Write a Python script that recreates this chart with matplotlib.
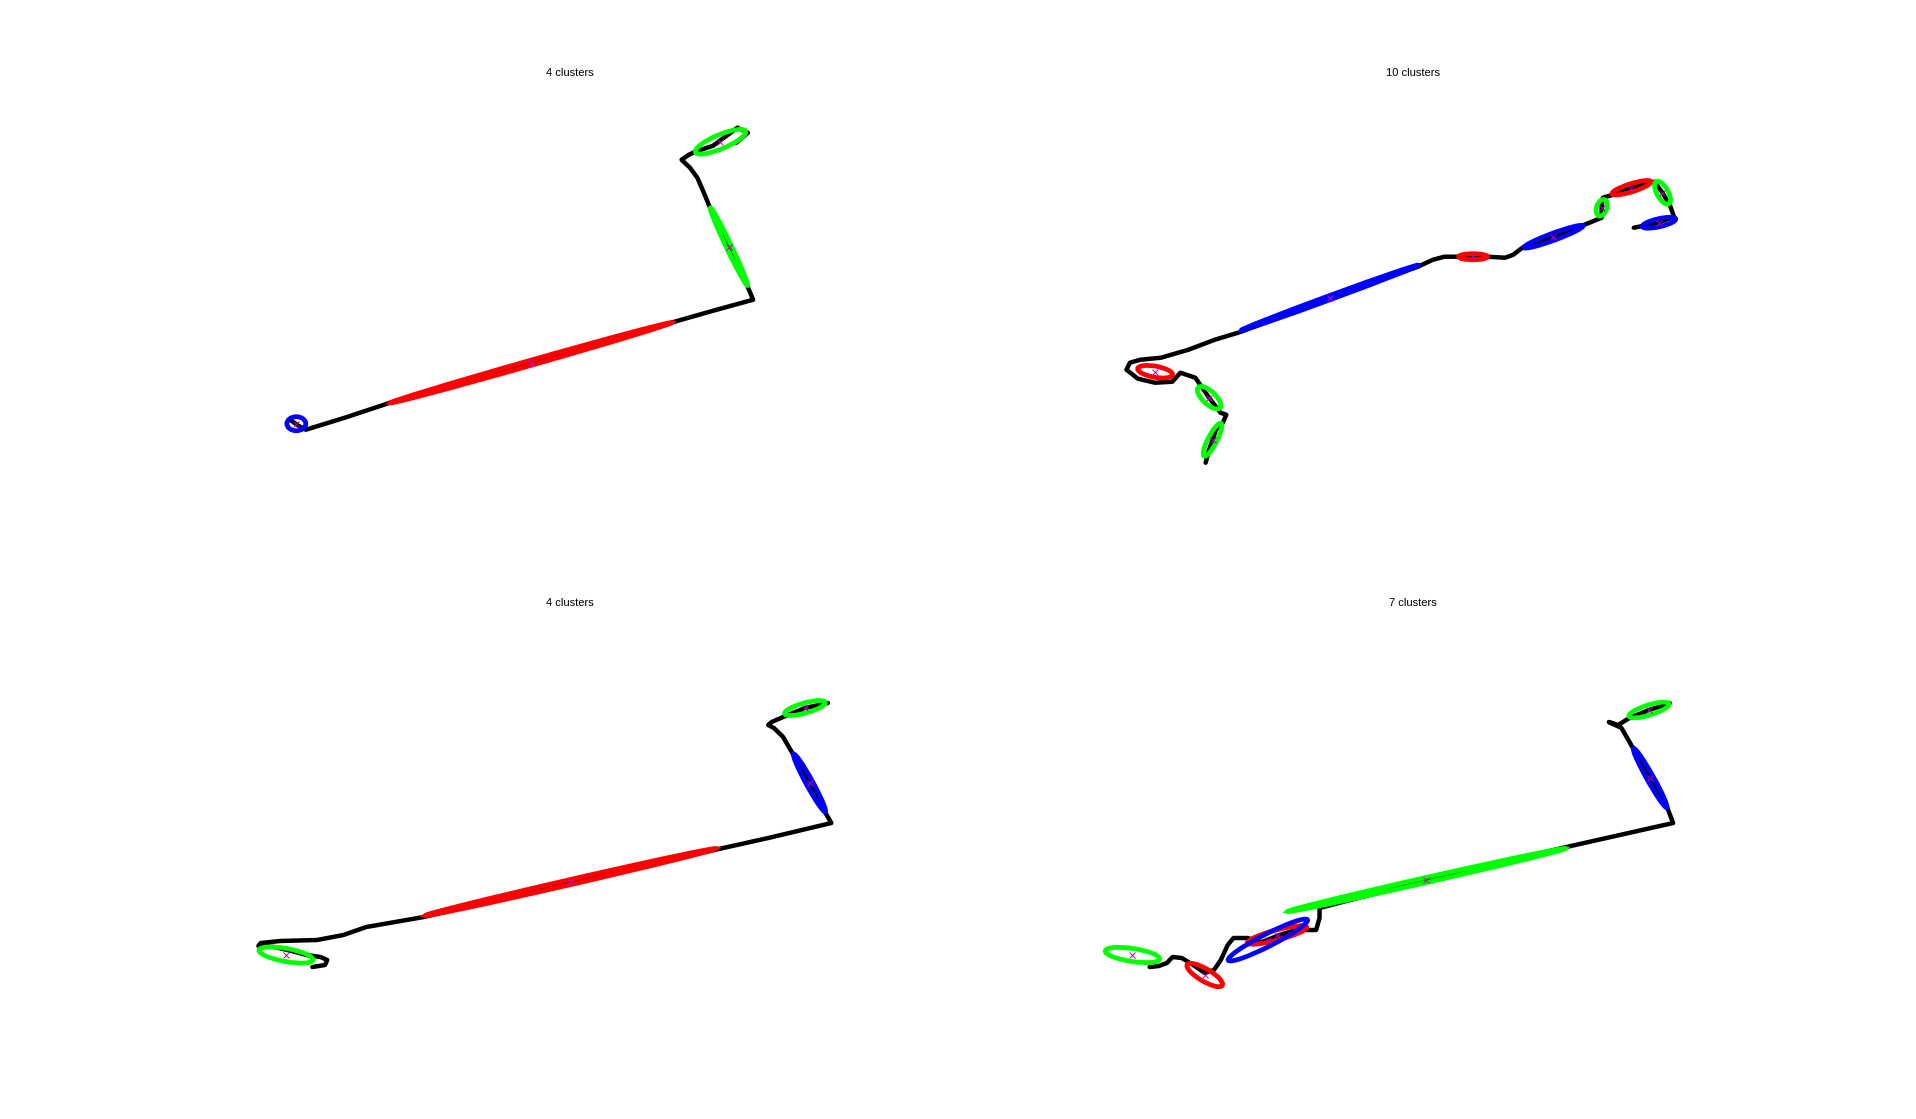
import matplotlib
matplotlib.use('Agg')
import matplotlib.pyplot as plt
from matplotlib.patches import Ellipse

plt.rcParams['font.family'] = ['Liberation Sans', 'DejaVu Sans']

# trajectories and gaussian clusters (arbitrary position units per panel)
titles = ['4 clusters', '10 clusters', '4 clusters', '7 clusters']

# panel 1
traj1_x = [288, 296, 303, 340, 383, 517, 650, 690, 728, 722, 705, 687, 682, 675, 668, 660, 667, 673, 690, 713, 723, 712]
traj1_y = [420, 426, 430, 418, 403, 363, 323, 311, 300, 285, 247, 208, 195, 178, 168, 160, 155, 152, 146, 128, 133, 143]
ell1_cx = [294, 517, 705, 697]
ell1_cy = [424, 363, 247, 142]
ell1_w = [18, 279, 85, 52]
ell1_h = [14, 5, 5, 14]
ell1_ang = [0, -16.7, 65.6, -24]
ell1_col = ['b', 'r', 'lime', 'lime']

# panel 2
traj2_x = [1192, 1195, 1201, 1207, 1210, 1205, 1195, 1183, 1170, 1163, 1148, 1133, 1123, 1126, 1135, 1153, 1177, 1200,
           1223, 1300, 1377, 1390, 1400, 1410, 1425, 1438, 1453, 1460, 1468, 1495, 1522, 1537, 1537, 1538, 1547, 1563,
           1583, 1590, 1597, 1600, 1587, 1565]
traj2_y = [463, 450, 430, 423, 415, 413, 398, 378, 373, 382, 383, 379, 370, 363, 360, 358, 350, 340,
           332, 298, 267, 260, 257, 257, 257, 257, 258, 255, 248, 237, 225, 218, 208, 198, 195, 188,
           182, 193, 207, 217, 223, 228]
ell2_cx = [1198, 1195, 1148, 1300, 1425, 1495, 1537, 1563, 1590, 1587]
ell2_cy = [440, 398, 372, 298, 257, 237, 208, 188, 193, 223]
ell2_w = [36, 28, 31, 167, 25, 56, 17, 36, 25, 30]
ell2_h = [8, 12, 11, 4, 6, 7, 9, 8, 10, 8]
ell2_ang = [-66, 49, 12, -22.9, 0, -23, -75, -20, 65, -15]
ell2_col = ['lime', 'lime', 'r', 'b', 'r', 'b', 'lime', 'r', 'lime', 'b']

# panel 3
traj3_x = [303, 314, 316, 310, 298, 285, 270, 256, 258, 275, 307, 330, 350, 375, 400, 528, 653, 700, 755, 750, 736, 722,
           713, 705, 700, 703, 713, 732, 752]
traj3_y = [967, 965, 960, 957, 955, 951, 947, 946, 943, 941, 940, 935, 927, 922, 917, 882, 850, 838, 823, 813, 783, 755,
           737, 728, 725, 722, 717, 708, 703]
ell3_cx = [280, 528, 736, 732]
ell3_cy = [955, 882, 783, 708]
ell3_w = [48, 262, 64, 37]
ell3_h = [13, 5, 6, 10]
ell3_ang = [12, -14.8, 64.6, -18]
ell3_col = ['lime', 'r', 'b', 'lime']

# panel 4
traj4_x = [1142, 1150, 1157, 1162, 1170, 1180, 1190, 1198, 1204, 1210, 1215, 1227, 1240, 1255, 1270, 1287, 1290, 1290,
           1383, 1505, 1598, 1593, 1578, 1563, 1553, 1542, 1550, 1560, 1577, 1595]
traj4_y = [967, 966, 963, 957, 958, 965, 973, 970, 960, 945, 938, 938, 942, 935, 930, 930, 918, 908,
           880, 847, 823, 808, 778, 748, 728, 722, 725, 718, 710, 703]
ell4_cx = [1127, 1190, 1253, 1245, 1383, 1578, 1577]
ell4_cy = [955, 975, 935, 940, 880, 778, 710]
ell4_w = [48, 37, 54, 80, 250, 66, 37]
ell4_h = [13, 12, 10, 12, 5, 6, 10]
ell4_ang = [10, 35, -17, -30.5, -14.6, 64, -20]
ell4_col = ['lime', 'r', 'r', 'b', 'lime', 'b', 'lime']

# axis limits per panel (y reversed)
xlims = [(249.1, 858.4), (1093.6, 1652.3), (247.9, 806.4), (1092.4, 1651.0)]
ylims = [(466.0, 84.2), (466.0, 84.2), (995.9, 614.1), (995.9, 614.1)]

panels = [
    (traj1_x, traj1_y, ell1_cx, ell1_cy, ell1_w, ell1_h, ell1_ang, ell1_col),
    (traj2_x, traj2_y, ell2_cx, ell2_cy, ell2_w, ell2_h, ell2_ang, ell2_col),
    (traj3_x, traj3_y, ell3_cx, ell3_cy, ell3_w, ell3_h, ell3_ang, ell3_col),
    (traj4_x, traj4_y, ell4_cx, ell4_cy, ell4_w, ell4_h, ell4_ang, ell4_col),
]

fig = plt.figure(figsize=(19.16, 11.19), dpi=100)

# matlab default subplot(2,2,k) positions
pos = [[0.13, 0.5838, 0.3347, 0.3412], [0.5703, 0.5838, 0.3347, 0.3412],
       [0.13, 0.11, 0.3347, 0.3412], [0.5703, 0.11, 0.3347, 0.3412]]

for k, (tx, ty, cx, cy, ew, eh, ea, ec) in enumerate(panels):
    ax = fig.add_axes(pos[k])
    ax.set_xlim(*xlims[k])
    ax.set_ylim(*ylims[k])
    ax.plot(tx, ty, color='k', lw=3.2, solid_capstyle='round', solid_joinstyle='round', zorder=1)
    for i in range(len(cx)):
        e = Ellipse((cx[i], cy[i]), ew[i], eh[i], angle=ea[i], fill=False,
                    edgecolor=ec[i], lw=3.4, zorder=2)
        ax.add_patch(e)
    ax.plot(cx, cy, 'x', color='m', ms=5, mew=0.7, zorder=3)
    ax.set_title(titles[k], fontsize=8)
    ax.axis('off')

fig.savefig('out.png', dpi=100, facecolor='white')
